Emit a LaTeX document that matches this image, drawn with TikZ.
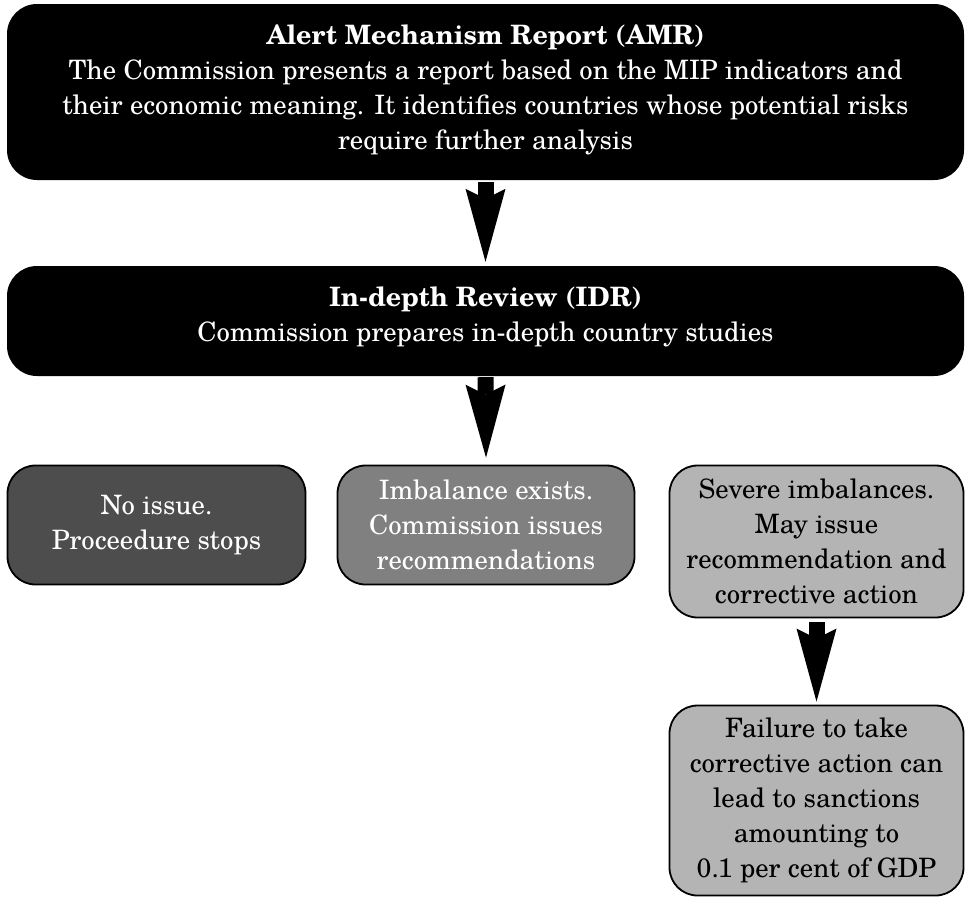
\documentclass[tikz,border=0pt]{standalone}
\usepackage{fontspec}
\setmainfont{TeX Gyre Schola}
\usetikzlibrary{arrows.meta}
\definecolor{darkbox}{HTML}{4D4D4D}
\definecolor{midbox}{HTML}{808080}
\definecolor{lightbox}{HTML}{B4B4B4}
\begin{document}
\begin{tikzpicture}[x=1pt,y=-1pt,
  txtfont/.style={font=\fontsize{26.7}{35}\selectfont},
  bigbox/.style={fill=black, rounded corners=30pt, inner sep=0pt, minimum width=957pt},
  box/.style={draw=black, line width=1.8pt, rounded corners=28pt, inner sep=0pt, align=center, txtfont},
  txt/.style={align=center, inner sep=0pt, txtfont},
  fatarrow/.style={line width=16pt, -{Stealth[length=73pt,width=40pt,inset=10pt,line width=0pt]}}]
\useasboundingbox (0,0) rectangle (966,898);
% top boxes
\node[bigbox, minimum height=176pt] (amr) at (485.5,92) {};
\node[txt, text=white] (amrt) at (485.5,90) {\textbf{Alert Mechanism Report (AMR)}\\The Commission presents a report based on the MIP indicators and\\their economic meaning. It identifies countries whose potential risks\\require further analysis};
\node[bigbox, minimum height=110pt] (idr) at (485.5,321) {};
\node[txt, text=white] (idrt) at (485.5,317) {\textbf{In-depth Review (IDR)}\\Commission prepares in-depth country studies};
% row
\node[box, fill=darkbox, text=white, minimum width=298pt, minimum height=119pt] (noissue) at (156.5,525) {No issue.\\Proceedure stops};
\node[box, fill=midbox, text=white, minimum width=297pt, minimum height=119pt] (imb) at (486,525) {Imbalance exists.\\Commission issues\\recommendations};
\node[box, fill=lightbox, text=black, minimum width=294pt, minimum height=152pt] (severe) at (816.5,541.5) {Severe imbalances.\\May issue\\recommendation and\\corrective action};
\node[box, fill=lightbox, text=black, minimum width=294pt, minimum height=190pt] (fail) at (816.5,800.5) {Failure to take\\corrective action can\\lead to sanctions\\amounting to\\0.1 per cent of GDP};
% arrows
\draw[fatarrow] ([yshift=-2pt]amr.south) -- ([yshift=4pt]idr.north);
\draw[fatarrow] ([yshift=-1pt]idr.south) -- ([yshift=7pt]imb.north);
\draw[fatarrow] ([yshift=-4pt]severe.south) -- ([yshift=3pt]fail.north);
\end{tikzpicture}
\end{document}
